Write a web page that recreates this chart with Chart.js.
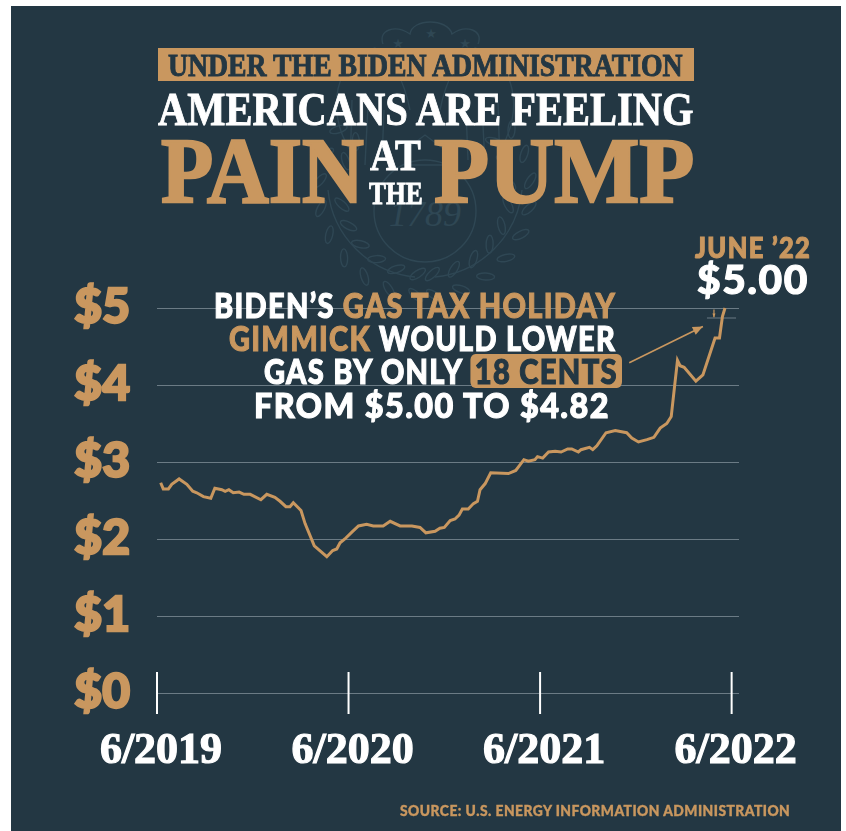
<!DOCTYPE html>
<html>
<head>
<meta charset="utf-8">
<style>
html,body{margin:0;padding:0;background:#fff;width:846px;height:831px;overflow:hidden}
#panel{position:absolute;left:11px;top:6px;width:830px;height:825px;background:#233743}
#seal,#myChart{position:absolute;left:0;top:0}
.t{position:absolute;white-space:nowrap;line-height:1;transform-origin:0 50%}
.serif{font-family:"Liberation Serif",serif;font-weight:700;-webkit-text-stroke:.9px currentColor}
.big{-webkit-text-stroke:2.4px currentColor}
.sans{font-family:Lato,sans-serif;font-weight:900;letter-spacing:1.5px;-webkit-text-stroke:1.1px currentColor}
.small{letter-spacing:.5px;-webkit-text-stroke:.4px currentColor}
.tan{color:#c9975f}
.pill{display:inline-block;background:#c9975f;color:#233743;border-radius:6px;padding:0 5px;line-height:34px}
#banner{position:absolute;left:158px;top:48px;width:536px;height:33px;background:#c9975f}
</style>
</head>
<body>
<div id="panel"></div>
<svg id="seal" width="846" height="831" fill="none" stroke="#2f4754" stroke-width="1.4">
  <circle cx="425" cy="211" r="51"/>
  <path d="M383 44 C378 30 395 24 410 34 C412 18 448 18 452 34 C466 24 484 30 478 44"/>
  <path d="M350 150 C325 110 335 60 375 48 C395 60 405 85 410 110 M500 150 C525 110 515 60 475 48 C455 60 445 85 440 110"/>
  <path d="M352 100 L350 170 M368 105 L365 165 M384 110 L382 160 M498 100 L500 170 M482 105 L485 165 M466 110 L468 160"/>
  <path d="M405 150 L425 135 L445 150 L445 165 L405 165 Z"/>
  <path id="laurel" d="M328 190 A97 97 0 0 0 415 277 M522 190 A97 97 0 0 1 435 277"/>
  <text x="425" y="226" font-family="Liberation Serif" font-style="italic" font-size="36" text-anchor="middle" fill="#2f4754" stroke="none">1789</text>
  <text x="398" y="48" font-family="DejaVu Sans" font-size="13" text-anchor="middle" fill="#2f4754" stroke="none">★</text>
  <text x="431" y="38" font-family="DejaVu Sans" font-size="13" text-anchor="middle" fill="#2f4754" stroke="none">★</text>
  <text x="465" y="48" font-family="DejaVu Sans" font-size="13" text-anchor="middle" fill="#2f4754" stroke="none">★</text>
</svg>
<canvas id="myChart" width="846" height="831"></canvas>
<div id="banner"></div>
<script src="https://cdn.jsdelivr.net/npm/chart.js@4"></script>
<script>
// weeks since June 2019
var weeks = [1,1.7,3.1,4,6,8.1,9.7,10.8,12.6,14.6,15.7,17.6,18.5,19.5,20.7,22.3,23.6,25.3,28.2,29.8,32,33.4,35,36.1,37,39.1,40.2,42.7,46.1,47.7,48.8,49.7,51,52.9,54.7,56.9,58.7,61.4,63.3,66,69.2,71.4,73,75.5,76.8,78,79.6,80.9,82,82.9,84.5,85.9,87,87.7,89.1,90.6,95.4,97.4,99.6,100.8,102.6,103.3,104.7,106.3,108.1,109.7,111.5,112.6,114.4,115.1,117.4,118.3,119.4,121.9,124.4,127.5,128.9,130.7,133,134.9,136.6,138.4,139.6,140.5,141.3,142,143.1,146.3,148.2,151.5,152.7,153.5,154.2];
// 每週油價
var prices = [2.73,2.65,2.65,2.71,2.78,2.71,2.62,2.6,2.55,2.53,2.66,2.64,2.62,2.64,2.6,2.61,2.58,2.58,2.51,2.58,2.54,2.49,2.42,2.42,2.47,2.37,2.2,1.91,1.77,1.85,1.87,1.95,2,2.09,2.17,2.19,2.17,2.17,2.23,2.17,2.17,2.15,2.08,2.1,2.14,2.15,2.24,2.26,2.31,2.39,2.39,2.46,2.49,2.64,2.72,2.86,2.85,2.89,3.03,3.01,3.03,3.07,3.05,3.13,3.14,3.13,3.17,3.17,3.13,3.16,3.19,3.16,3.21,3.38,3.41,3.38,3.31,3.26,3.29,3.32,3.44,3.5,3.59,3.98,4.32,4.25,4.23,4.05,4.13,4.61,4.61,4.89,5];
var xTickWeeks = [0,52,104,156];
var xTickLabels = ['6/2019','6/2020','6/2021','6/2022'];
var holidayWeeks = [149.3,157.2];
var holidayPrices = [4.87,4.87];

var tan = '#c9975f';
var gridColor = '#6b7b85';

// laurel leaves on the seal
function addLeaves(){
    var svg = document.getElementById('seal');
    [[95,220,1],[85,-40,-1]].forEach(function(b){
        for (var deg = b[0]; b[2] > 0 ? deg <= b[1] : deg >= b[1]; deg += 15 * b[2]) {
            [-38, 38].forEach(function(tilt){
                var r = deg * Math.PI / 180;
                var cx = 425 + 95 * Math.cos(r) + tilt * 0.28 * Math.cos(r);
                var cy = 190 + 95 * Math.sin(r) + tilt * 0.28 * Math.sin(r);
                var e = document.createElementNS('http://www.w3.org/2000/svg', 'ellipse');
                e.setAttribute('rx', 9);
                e.setAttribute('ry', 3.5);
                e.setAttribute('transform', 'translate(' + cx + ' ' + cy + ') rotate(' + (deg + 90 + tilt) + ')');
                svg.appendChild(e);
            });
        }
    });
}
addLeaves();

// white year ticks and the two arrows
var extras = {
    id: 'extras',
    afterDatasetsDraw: function(chart){
        var c = chart.ctx, x = chart.scales.x, y = chart.scales.y;
        c.save();
        c.strokeStyle = '#fff';
        c.lineWidth = 2;
        xTickWeeks.forEach(function(w){
            var px = x.getPixelForValue(w);
            c.beginPath();
            c.moveTo(px, y.getPixelForValue(0) - 21);
            c.lineTo(px, y.getPixelForValue(0) + 21);
            c.stroke();
        });
        arrow(c, x.getPixelForValue(128.2), y.getPixelForValue(4.29), x.getPixelForValue(148.2), y.getPixelForValue(4.76), 1.6, 11);
        arrow(c, x.getPixelForValue(151.2), y.getPixelForValue(4.98), x.getPixelForValue(151.2), y.getPixelForValue(4.88), 1.2, 4);
        c.restore();
    }
};

function arrow(c, x0, y0, x1, y1, w, head){
    var a = Math.atan2(y1 - y0, x1 - x0);
    c.strokeStyle = tan;
    c.fillStyle = tan;
    c.lineWidth = w;
    c.beginPath();
    c.moveTo(x0, y0);
    c.lineTo(x1, y1);
    c.stroke();
    c.beginPath();
    c.moveTo(x1, y1);
    c.lineTo(x1 - head * Math.cos(a - 0.4), y1 - head * Math.sin(a - 0.4));
    c.lineTo(x1 - head * Math.cos(a + 0.4), y1 - head * Math.sin(a + 0.4));
    c.closePath();
    c.fill();
}

var myChart = new Chart(document.getElementById('myChart'), {
    type: 'line',
    plugins: [extras],
    data: {
        datasets: [{
            data: weeks.map(function(w, i){ return {x: w, y: prices[i]}; }),
            borderColor: tan,
            borderWidth: 3,
            pointRadius: 0,
            tension: 0,
            clip: false
        },{
            data: holidayWeeks.map(function(w, i){ return {x: w, y: holidayPrices[i]}; }),
            borderColor: gridColor,
            borderWidth: 1,
            pointRadius: 0
        }]
    },
    options: {
        responsive: false,
        animation: false,
        layout: {padding: {top: 308, right: 107, left: 0, bottom: 0}},
        plugins: {legend: {display: false}, tooltip: {enabled: false}},
        scales: {
            x: {
                type: 'linear',
                min: 0,
                max: 158,
                grid: {display: false},
                border: {display: false},
                afterBuildTicks: function(s){
                    s.ticks = xTickWeeks.map(function(w){ return {value: w}; });
                },
                afterFit: function(s){ s.height = 138; },
                ticks: {
                    autoSkip: false,
                    maxRotation: 0,
                    padding: 24,
                    labelOffset: 4,
                    color: '#fff',
                    textStrokeColor: '#fff',
                    textStrokeWidth: 1.2,
                    font: {family: 'Liberation Serif', weight: 'bold', size: 44},
                    callback: function(v){ return xTickLabels[xTickWeeks.indexOf(v)]; }
                }
            },
            y: {
                min: 0,
                max: 5,
                grid: {color: gridColor, lineWidth: 1, drawTicks: false},
                border: {display: false},
                afterFit: function(s){ s.width = 157; },
                ticks: {
                    stepSize: 1,
                    padding: 27,
                    color: tan,
                    textStrokeColor: tan,
                    textStrokeWidth: 2.4,
                    font: {family: 'Lato', weight: '900', size: 48},
                    callback: function(v){ return '$' + v; }
                }
            }
        }
    }
});

// text fitted between two x positions
function place(html, cls, left, right, cy, size, color){
    var d = document.createElement('div');
    d.className = 't ' + cls;
    d.innerHTML = html;
    d.style.fontSize = size + 'px';
    d.style.color = color;
    d.style.left = left + 'px';
    document.body.appendChild(d);
    d.style.top = (cy - d.offsetHeight / 2) + 'px';
    d.style.transform = 'scaleX(' + ((right - left) / d.offsetWidth) + ')';
}

place('UNDER THE BIDEN ADMINISTRATION', 'serif', 168, 683, 65, 32, '#233743');
place('AMERICANS ARE FEELING', 'serif', 158, 694, 109, 47, '#fff');
place('PAIN', 'serif big', 161, 364, 170, 94, tan);
place('AT', 'serif', 370, 421, 156, 44, '#fff');
place('THE', 'serif', 369, 423, 193, 32, '#fff');
place('PUMP', 'serif big', 434, 694, 170, 94, tan);

place('BIDEN’S <span class="tan">GAS TAX HOLIDAY</span>', 'sans', 214, 616, 305, 34, '#fff');
place('<span class="tan">GIMMICK</span> WOULD LOWER', 'sans', 229, 616, 338, 34, '#fff');
place('GAS BY ONLY <span class="pill">18 CENTS</span>', 'sans', 264, 622, 371, 34, '#fff');
place('FROM $5.00 TO $4.82', 'sans', 254, 610, 405, 34, '#fff');
place('JUNE ’22', 'sans', 695, 811, 246, 29, tan);
place('$5.00', 'sans', 697, 809, 279, 40, '#fff');
place('SOURCE: U.S. ENERGY INFORMATION ADMINISTRATION', 'sans small', 400, 790, 810, 15, tan);
</script>
</body>
</html>
